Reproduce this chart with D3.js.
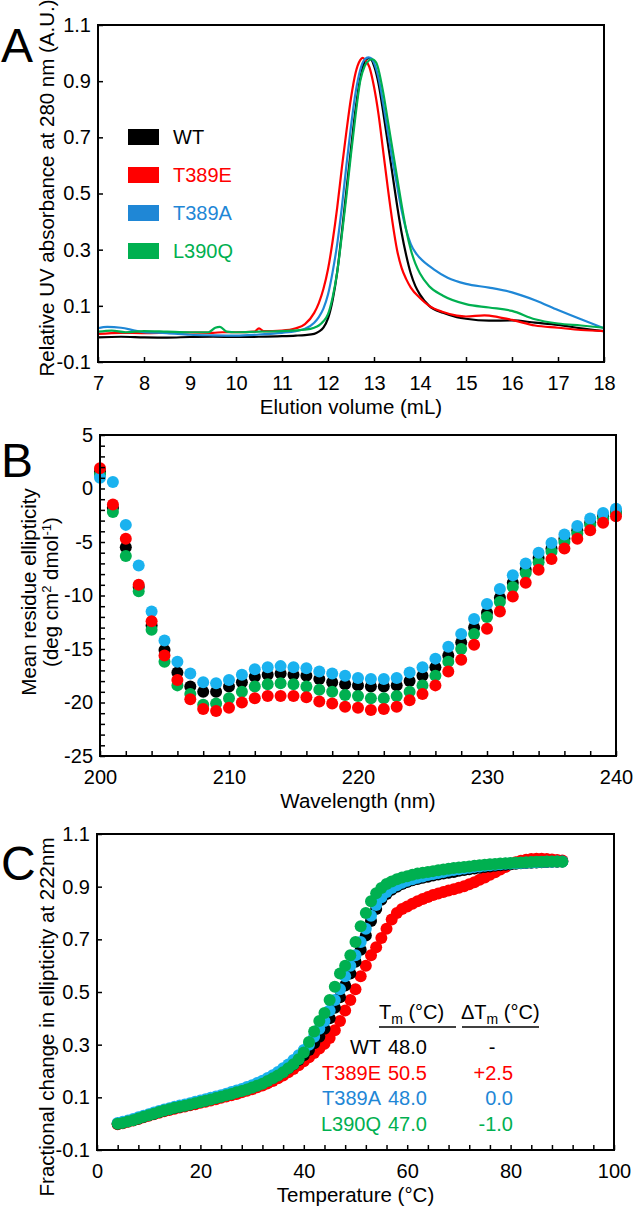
<!DOCTYPE html>
<html><head><meta charset="utf-8">
<script src="https://cdn.jsdelivr.net/npm/d3@7"></script>
<style>
body{margin:0;background:#fff}
svg{display:block}
text{font-family:"Liberation Sans",Arial,sans-serif;}
</style>
</head><body>
<svg id="fig" width="633" height="1208"></svg>
<script>
// ---------- Panel A: SEC ----------
const secNames = ["WT","T389E","T389A","L390Q"];
const secColors = ["#000000","#ff0000","#1f87d6","#00b050"];
const secWT = [[7,-0.012],[7.5,-0.01],[8,-0.012],[8.5,-0.013],[9,-0.011],[9.5,-0.01],[10,-0.011],[10.5,-0.01],[11,-0.008],[11.3,-0.006],[11.5,-0.004],[11.7,0.0],[11.8,0.008],[11.9,0.022],[12.0,0.055],[12.1,0.12],[12.2,0.22],[12.3,0.36],[12.4,0.51],[12.5,0.66],[12.6,0.8],[12.7,0.91],[12.8,0.97],[12.88,0.982],[12.95,0.975],[13.0,0.955],[13.1,0.89],[13.2,0.79],[13.3,0.68],[13.4,0.57],[13.5,0.46],[13.6,0.36],[13.7,0.28],[13.8,0.215],[13.9,0.17],[14.0,0.14],[14.2,0.1],[14.5,0.075],[14.8,0.06],[15,0.054],[15.5,0.047],[16,0.048],[16.5,0.04],[17,0.032],[17.5,0.02],[18,0.01]];
const secT389E = [[7,0.0],[7.5,0.004],[8,0.003],[8.5,0.004],[9,0.005],[9.5,0.004],[9.7,0.006],[10,0.006],[10.4,0.008],[10.5,0.02],[10.6,0.01],[11,0.012],[11.3,0.02],[11.5,0.035],[11.7,0.075],[11.8,0.11],[11.9,0.16],[12.0,0.23],[12.1,0.33],[12.2,0.45],[12.3,0.59],[12.4,0.72],[12.5,0.84],[12.6,0.93],[12.7,0.975],[12.75,0.983],[12.8,0.978],[12.9,0.95],[13.0,0.88],[13.1,0.78],[13.2,0.65],[13.3,0.52],[13.4,0.4],[13.5,0.3],[13.6,0.235],[13.7,0.195],[13.8,0.165],[14.0,0.128],[14.2,0.1],[14.5,0.078],[14.8,0.065],[15,0.062],[15.4,0.066],[15.7,0.06],[16,0.05],[16.5,0.03],[17,0.022],[17.5,0.014],[18,0.01]];
const secT389A = [[7,0.02],[7.2,0.025],[7.5,0.022],[7.8,0.012],[8,0.006],[8.5,0.003],[9,-0.003],[9.5,-0.005],[10,-0.006],[10.5,-0.002],[11,0.004],[11.3,0.01],[11.5,0.018],[11.7,0.04],[11.8,0.06],[11.9,0.09],[12.0,0.14],[12.1,0.22],[12.2,0.32],[12.3,0.45],[12.4,0.6],[12.5,0.74],[12.6,0.86],[12.7,0.94],[12.8,0.978],[12.88,0.985],[12.95,0.98],[13.0,0.965],[13.1,0.91],[13.2,0.82],[13.3,0.72],[13.4,0.62],[13.5,0.53],[13.6,0.44],[13.7,0.37],[13.8,0.32],[13.9,0.29],[14.0,0.27],[14.3,0.23],[14.6,0.2],[15,0.178],[15.5,0.165],[16,0.148],[16.5,0.12],[17,0.085],[17.5,0.052],[18,0.02]];
const secL390Q = [[7,0.008],[7.3,0.012],[7.6,0.006],[8,0.01],[8.5,0.008],[9,0.006],[9.4,0.006],[9.55,0.022],[9.65,0.025],[9.8,0.008],[10,0.006],[10.5,0.008],[11,0.01],[11.5,0.015],[11.7,0.022],[11.8,0.03],[11.9,0.045],[12.0,0.07],[12.1,0.13],[12.2,0.22],[12.3,0.35],[12.4,0.49],[12.5,0.64],[12.6,0.78],[12.7,0.9],[12.8,0.955],[12.9,0.975],[12.96,0.978],[13.05,0.965],[13.1,0.94],[13.2,0.86],[13.3,0.76],[13.4,0.66],[13.5,0.56],[13.6,0.46],[13.7,0.37],[13.8,0.3],[13.9,0.25],[14.0,0.215],[14.2,0.17],[14.5,0.136],[15,0.106],[15.5,0.094],[16,0.082],[16.5,0.052],[17,0.037],[17.5,0.03],[18,0.022]];
const secXTicks = [7,8,9,10,11,12,13,14,15,16,17,18];
const secYTicks = [-0.1,0.1,0.3,0.5,0.7,0.9,1.1];

// ---------- Panel B: CD spectra ----------
const cdWavelength = [200,201,202,203,204,205,206,207,208,209,210,211,212,213,214,215,216,217,218,219,220,221,222,223,224,225,226,227,228,229,230,231,232,233,234,235,236,237,238,239,240];
const cdWT    = [1.6,-1.8,-5.5,-9.2,-12.8,-15.1,-17.2,-18.5,-19.0,-19.0,-18.5,-18.1,-17.6,-17.4,-17.3,-17.4,-17.5,-17.8,-18.1,-18.3,-18.4,-18.5,-18.5,-18.4,-18.0,-17.5,-16.7,-15.6,-14.4,-13.0,-11.6,-10.2,-8.8,-7.6,-6.5,-5.6,-4.7,-3.9,-3.2,-2.6,-2.2];
const cdT389E = [1.9,-1.5,-4.7,-9.0,-12.4,-15.6,-17.9,-19.7,-20.6,-20.8,-20.5,-20.0,-19.6,-19.4,-19.4,-19.4,-19.5,-19.9,-20.1,-20.4,-20.5,-20.7,-20.6,-20.4,-19.8,-19.2,-18.4,-17.1,-16.0,-14.6,-13.1,-11.5,-10.1,-8.8,-7.6,-6.6,-5.6,-4.7,-3.9,-3.2,-2.6];
const cdT389A = [1.0,0.6,-3.4,-7.2,-11.5,-14.2,-16.2,-17.3,-18.1,-18.2,-17.9,-17.4,-16.9,-16.7,-16.6,-16.7,-16.8,-17.1,-17.3,-17.5,-17.7,-17.8,-17.8,-17.7,-17.2,-16.7,-15.9,-14.8,-13.6,-12.2,-10.8,-9.4,-8.1,-7.0,-6.0,-5.1,-4.3,-3.5,-2.8,-2.3,-1.9];
const cdL390Q = [1.3,-2.2,-6.3,-9.6,-13.2,-16.2,-18.4,-19.2,-20.2,-20.1,-19.6,-19.0,-18.5,-18.3,-18.2,-18.3,-18.5,-18.8,-19.0,-19.3,-19.4,-19.6,-19.6,-19.4,-19.0,-18.4,-17.5,-16.2,-15.0,-13.6,-12.0,-10.6,-9.2,-7.9,-6.9,-5.9,-5.0,-4.2,-3.4,-2.8,-2.3];
const cdXTicks = [200,210,220,230,240];
const cdYTicks = [5,0,-5,-10,-15,-20,-25];

// ---------- Panel C: thermal melt ----------
const meltTemp = [4,5,6,7,8,9,10,11,12,13,14,15,16,17,18,19,20,21,22,23,24,25,26,27,28,29,30,31,32,33,34,35,36,37,38,39,40,41,42,43,44,45,46,47,48,49,50,51,52,53,54,55,56,57,58,59,60,61,62,63,64,65,66,67,68,69,70,71,72,73,74,75,76,77,78,79,80,81,82,83,84,85,86,87,88,89,90];
const meltWT    = [0.0,0.004,0.009,0.014,0.02,0.026,0.032,0.038,0.044,0.05,0.055,0.06,0.064,0.069,0.073,0.078,0.083,0.088,0.093,0.098,0.103,0.109,0.114,0.12,0.126,0.132,0.139,0.146,0.154,0.163,0.173,0.184,0.196,0.21,0.225,0.242,0.26,0.28,0.305,0.33,0.36,0.4,0.44,0.48,0.525,0.57,0.615,0.66,0.715,0.77,0.815,0.85,0.872,0.888,0.9,0.91,0.918,0.924,0.929,0.934,0.938,0.942,0.946,0.95,0.953,0.956,0.96,0.963,0.966,0.969,0.972,0.975,0.977,0.979,0.981,0.983,0.985,0.987,0.989,0.99,0.991,0.992,0.993,0.994,0.995,0.995,0.996];
const meltT389E = [-0.002,0.002,0.007,0.012,0.018,0.024,0.03,0.036,0.041,0.047,0.052,0.057,0.061,0.065,0.07,0.074,0.079,0.083,0.088,0.093,0.098,0.103,0.108,0.113,0.119,0.125,0.131,0.138,0.145,0.153,0.162,0.172,0.183,0.195,0.208,0.222,0.237,0.252,0.268,0.285,0.303,0.325,0.355,0.39,0.43,0.47,0.51,0.56,0.6,0.64,0.67,0.705,0.74,0.775,0.8,0.815,0.825,0.835,0.845,0.853,0.861,0.868,0.874,0.88,0.885,0.89,0.896,0.902,0.909,0.917,0.926,0.935,0.945,0.955,0.965,0.975,0.985,0.993,0.998,1.002,1.005,1.006,1.006,1.005,1.003,1.001,0.999];
const meltT389A = [0.003,0.007,0.012,0.018,0.024,0.03,0.036,0.042,0.048,0.054,0.059,0.064,0.069,0.073,0.078,0.083,0.088,0.093,0.098,0.103,0.108,0.114,0.12,0.126,0.132,0.139,0.146,0.154,0.163,0.173,0.184,0.196,0.21,0.225,0.242,0.26,0.28,0.3,0.33,0.36,0.39,0.43,0.47,0.51,0.56,0.6,0.64,0.69,0.74,0.79,0.83,0.86,0.88,0.895,0.905,0.915,0.922,0.928,0.934,0.939,0.944,0.948,0.952,0.956,0.96,0.963,0.966,0.969,0.972,0.975,0.977,0.979,0.981,0.983,0.985,0.987,0.988,0.989,0.99,0.991,0.992,0.993,0.994,0.995,0.995,0.996,0.996];
const meltL390Q = [0.0,0.003,0.008,0.013,0.02,0.026,0.032,0.038,0.044,0.05,0.055,0.06,0.064,0.068,0.073,0.078,0.082,0.087,0.092,0.097,0.102,0.108,0.113,0.119,0.124,0.13,0.137,0.144,0.152,0.162,0.172,0.183,0.195,0.21,0.226,0.245,0.27,0.31,0.35,0.39,0.42,0.47,0.52,0.57,0.6,0.64,0.69,0.75,0.8,0.845,0.875,0.895,0.91,0.92,0.928,0.935,0.94,0.945,0.95,0.953,0.956,0.959,0.962,0.965,0.968,0.971,0.973,0.975,0.977,0.979,0.981,0.983,0.985,0.986,0.988,0.989,0.99,0.991,0.992,0.993,0.994,0.995,0.995,0.996,0.996,0.996,0.995];
const meltXTicks = [0,20,40,60,80,100];
const meltYTicks = [-0.1,0.1,0.3,0.5,0.7,0.9,1.1];
const tmNames = ["WT","T389E","T389A","L390Q"];
const tmValues = ["48.0","50.5","48.0","47.0"];
const tmDeltas = ["-","+2.5","0.0","-1.0"];
const tmColors = ["#000000","#ff0000","#1f87d6","#00b050"];

const dotColors = {WT:"#000000",T389E:"#ff0000",T389A:"#1ab2ef",L390Q:"#00b050"};

const svg = d3.select("#fig");
const FONT = 20;
const TFONT = 20.5;
const fmt1 = d => (d < 0 ? "-" : "") + Math.abs(d).toFixed(1);
const fmt0 = d => (d < 0 ? "-" : "") + Math.abs(d).toFixed(0);

function frame(x, y, opt){
  const [x0,x1] = x.range(), [y0,y1] = y.range();
  const g = svg.append("g");
  const ax = d3.axisBottom(x).tickValues(opt.xMinor).tickSizeInner(-5).tickSizeOuter(0).tickFormat("");
  g.append("g").attr("transform",`translate(0,${y0})`).call(ax).call(s=>s.select(".domain").remove());
  const axl = d3.axisBottom(x).tickValues(opt.xTicks).tickSize(0).tickPadding(14).tickFormat(opt.xFmt);
  g.append("g").attr("transform",`translate(0,${y0})`).call(axl).call(s=>s.select(".domain").remove())
    .selectAll("text").attr("font-size",FONT).attr("fill","#000").attr("font-family","Liberation Sans, Arial, sans-serif");
  const ay = d3.axisLeft(y).tickValues(opt.yMinor).tickSizeInner(-5).tickSizeOuter(0).tickFormat("");
  g.append("g").attr("transform",`translate(${x0},0)`).call(ay).call(s=>s.select(".domain").remove());
  const ayl = d3.axisLeft(y).tickValues(opt.yTicks).tickSize(0).tickPadding(7).tickFormat(opt.yFmt);
  g.append("g").attr("transform",`translate(${x0},0)`).call(ayl).call(s=>s.select(".domain").remove())
    .selectAll("text").attr("font-size",FONT).attr("fill","#000").attr("font-family","Liberation Sans, Arial, sans-serif");
  g.selectAll(".tick line").attr("stroke","#000").attr("stroke-width",1.5);
  g.append("rect").attr("x",x0).attr("y",y1).attr("width",x1-x0).attr("height",y0-y1)
    .attr("fill","none").attr("stroke","#000").attr("stroke-width",2);
  return g;
}

// ===== Panel A =====
const xA = d3.scaleLinear().domain([7,18]).range([98,604]);
const yA = d3.scaleLinear().domain([-0.1,1.1]).range([362,25]);
const secData = [secWT, secT389E, secT389A, secL390Q];
const lineA = d3.line().x(d=>xA(d[0])).y(d=>yA(d[1])).curve(d3.curveMonotoneX);
const gA = svg.append("g");
secData.forEach((s,i)=>{
  gA.append("path").datum(s).attr("d",lineA).attr("fill","none")
    .attr("stroke",secColors[i]).attr("stroke-width",2.2).attr("stroke-linejoin","round");
});
frame(xA, yA, {xTicks:secXTicks, xMinor:secXTicks, xFmt:fmt0,
  yTicks:secYTicks, yMinor:secYTicks, yFmt:fmt1});
// legend
const legY = d3.scaleBand().domain(secNames).range([129,281]).paddingInner(0);
secNames.forEach((n,i)=>{
  const yy = legY(n);
  svg.append("rect").attr("x",128).attr("y",yy).attr("width",31).attr("height",16).attr("fill",secColors[i]);
  svg.append("text").attr("x",173).attr("y",yy+8).attr("dy","0.35em").attr("font-size",FONT)
    .attr("fill",secColors[i]).text(n);
});
svg.append("text").attr("x",1).attr("y",62).attr("font-size",48).text("A");
svg.append("text").attr("transform",`translate(54,188) rotate(-90)`).attr("text-anchor","middle")
  .attr("font-size",TFONT).text("Relative UV absorbance at 280 nm (A.U.)");
svg.append("text").attr("x",(98+604)/2).attr("y",362+52).attr("text-anchor","middle").attr("font-size",TFONT)
  .text("Elution volume (mL)");

// ===== Panel B =====
const xB = d3.scaleLinear().domain([200,240]).range([100,616]);
const yB = d3.scaleLinear().domain([-25,5]).range([756,435]);
const cdSeries = [["WT",cdWT],["L390Q",cdL390Q],["T389A",cdT389A],["T389E",cdT389E]];
const gB = svg.append("g");
cdSeries.forEach(([n,vals])=>{
  gB.selectAll(null).data(vals).enter().append("circle")
    .attr("cx",(d,i)=>xB(cdWavelength[i])).attr("cy",d=>yB(d)).attr("r",6).attr("fill",dotColors[n]);
});
frame(xB, yB, {xTicks:cdXTicks, xMinor:d3.range(200,241,2), xFmt:fmt0,
  yTicks:cdYTicks, yMinor:d3.range(-25,6,1), yFmt:fmt0});
svg.append("text").attr("x",1).attr("y",477).attr("font-size",48).text("B");
const tB = svg.append("text").attr("transform",`translate(36,592) rotate(-90)`).attr("text-anchor","middle").attr("font-size",TFONT);
tB.append("tspan").attr("x",0).attr("y",0).text("Mean residue ellipticity");
const tB2 = svg.append("text").attr("transform",`translate(58,592) rotate(-90)`).attr("text-anchor","middle").attr("font-size",TFONT);
tB2.append("tspan").text("(deg cm");
tB2.append("tspan").attr("dy",-7).attr("font-size",13).text("2");
tB2.append("tspan").attr("dy",7).text(" dmol");
tB2.append("tspan").attr("dy",-7).attr("font-size",13).text("-1");
tB2.append("tspan").attr("dy",7).text(")");
svg.append("text").attr("x",(100+616)/2).attr("y",756+52).attr("text-anchor","middle").attr("font-size",TFONT)
  .text("Wavelength (nm)");

// ===== Panel C =====
const xC = d3.scaleLinear().domain([0,100]).range([97,614]);
const yC = d3.scaleLinear().domain([-0.1,1.1]).range([1150,834]);
const meltSeries = [["T389E",meltT389E],["WT",meltWT],["T389A",meltT389A],["L390Q",meltL390Q]];
const gC = svg.append("g");
meltSeries.forEach(([n,vals])=>{
  gC.selectAll(null).data(vals).enter().append("circle")
    .attr("cx",(d,i)=>xC(meltTemp[i])).attr("cy",d=>yC(d)).attr("r",6).attr("fill",dotColors[n]);
});
frame(xC, yC, {xTicks:meltXTicks, xMinor:d3.range(0,101,4), xFmt:fmt0,
  yTicks:meltYTicks, yMinor:meltYTicks, yFmt:fmt1});
svg.append("text").attr("x",1).attr("y",880).attr("font-size",48).text("C");
svg.append("text").attr("transform",`translate(54,1017) rotate(-90)`).attr("text-anchor","middle")
  .attr("font-size",TFONT).text("Fractional change in ellipticity at 222nm");
svg.append("text").attr("x",(97+614)/2).attr("y",1150+52).attr("text-anchor","middle").attr("font-size",TFONT)
  .text("Temperature (°C)");

// table
const th1 = svg.append("text").attr("x",379).attr("y",1019).attr("font-size",FONT);
th1.append("tspan").text("T");
th1.append("tspan").attr("dy",5).attr("font-size",14).text("m");
th1.append("tspan").attr("dy",-5).text(" (°C)");
const th2 = svg.append("text").attr("x",461).attr("y",1019).attr("font-size",FONT);
th2.append("tspan").text("ΔT");
th2.append("tspan").attr("dy",5).attr("font-size",14).text("m");
th2.append("tspan").attr("dy",-5).text(" (°C)");
svg.append("line").attr("x1",379).attr("x2",456).attr("y1",1027).attr("y2",1027).attr("stroke","#000").attr("stroke-width",1.5);
svg.append("line").attr("x1",462).attr("x2",539).attr("y1",1027).attr("y2",1027).attr("stroke","#000").attr("stroke-width",1.5);
const rowY = d3.scalePoint().domain(tmNames).range([1047,1124]);
tmNames.forEach((n,i)=>{
  const yy = rowY(n);
  svg.append("text").attr("x",381).attr("y",yy).attr("dy","0.35em").attr("text-anchor","end").attr("font-size",FONT).attr("fill",tmColors[i]).text(n);
  svg.append("text").attr("x",388).attr("y",yy).attr("dy","0.35em").attr("font-size",FONT).attr("fill",tmColors[i]).text(tmValues[i]);
  const isDash = tmDeltas[i]==="-";
  svg.append("text").attr("x",isDash?492:513).attr("y",yy).attr("dy","0.35em").attr("text-anchor",isDash?"middle":"end")
    .attr("font-size",FONT).attr("fill",tmColors[i]).text(tmDeltas[i]);
});
</script>
</body></html>
